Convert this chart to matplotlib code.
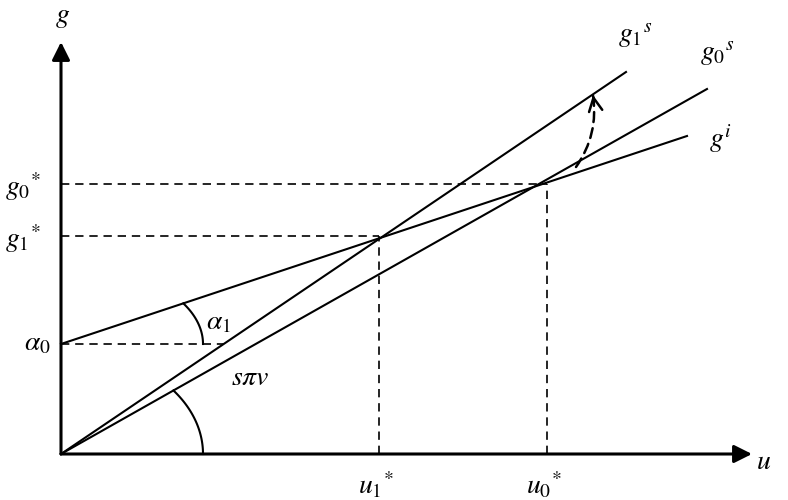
import numpy as np
import matplotlib.pyplot as plt
from matplotlib.patches import FancyArrowPatch

plt.rcParams['mathtext.fontset'] = 'stix'

# diagram coordinates (pixels measured from the origin of the u-g axes)
g1s_end = (565, 382)
g0s_end = (646, 365)
gi_start = (0, 110)
gi_end = (626, 318)
u_star = [318, 486]      # u1*, u0*
g_star = [218, 270]      # g1*, g0*
alpha0 = 110
shift_from = (515, 287)
shift_to = (532, 359)

line_labels = [r'$g_1{}^{s}$', r'$g_0{}^{s}$', r'$g^{i}$']
line_label_pos = [(574, 418), (656, 400), (659, 316)]
star_u_labels = [r'$u_1{}^{*}$', r'$u_0{}^{*}$']
star_g_labels = [r'$g_1{}^{*}$', r'$g_0{}^{*}$']

fig = plt.figure(figsize=(7.88, 5.0), dpi=100)
ax = fig.add_axes([0, 0, 1, 1])
ax.set_xlim(-61, 727)
ax.set_ylim(-46, 454)
ax.axis('off')

# axes with arrow heads
for tip in [(691, 0), (0, 412)]:
    ax.annotate('', xy=tip, xytext=(0, 0),
                arrowprops=dict(arrowstyle='-|>', lw=2.2, color='black',
                                mutation_scale=27, shrinkA=0, shrinkB=0))

# supply and investment lines
lw = 1.5
ax.plot([0, g1s_end[0]], [0, g1s_end[1]], color='black', lw=lw)
ax.plot([0, g0s_end[0]], [0, g0s_end[1]], color='black', lw=lw)
ax.plot([gi_start[0], gi_end[0]], [gi_start[1], gi_end[1]], color='black', lw=lw)

# dashed guides to the equilibria
dash = dict(color='black', lw=1.2, linestyle=(0, (5, 3.5)))
for u, g in zip(u_star, g_star):
    ax.plot([0, u], [g, g], **dash)
    ax.plot([u, u], [0, g], **dash)
slope1 = g1s_end[1] / g1s_end[0]
ax.plot([0, alpha0 / slope1], [alpha0, alpha0], **dash)

# angle arcs (slightly flattened, as drawn)
def angle_arc(cx, cy, slope, a, b):
    t_end = np.arctan(slope * a / b)
    t = np.linspace(0, t_end, 60)
    ax.plot(cx + a * np.cos(t), cy + b * np.sin(t), color='black', lw=lw)

slope_i = (gi_end[1] - gi_start[1]) / (gi_end[0] - gi_start[0])
slope0 = g0s_end[1] / g0s_end[0]
angle_arc(0, alpha0, slope_i, 142, 80)
angle_arc(0, 0, slope0, 142, 104)

# dashed curved shift arrow
curve = FancyArrowPatch(shift_from, shift_to, arrowstyle='-',
                        connectionstyle='arc3,rad=0.2', lw=1.8,
                        linestyle=(0, (4, 2.5)), color='black',
                        shrinkA=0, shrinkB=0)
ax.add_patch(curve)
ax.annotate('', xy=shift_to, xytext=(shift_to[0] + 1, shift_to[1] - 6),
            arrowprops=dict(arrowstyle='->', lw=1.8, color='black',
                            mutation_scale=24, shrinkA=0, shrinkB=0))

fs = 20
for lab, (x, y) in zip(line_labels, line_label_pos):
    ax.text(x, y, lab, fontsize=fs, ha='center', va='center')
for lab, u in zip(star_u_labels, u_star):
    ax.text(u - 3, -31, lab, fontsize=fs, ha='center', va='center')
for lab, g in zip(star_g_labels, g_star):
    ax.text(-38, g - 3, lab, fontsize=fs, ha='center', va='center')
ax.text(-24, alpha0 + 2, r'$\alpha_0$', fontsize=fs, ha='center', va='center')
ax.text(157, 133, r'$\alpha_1$', fontsize=fs, ha='center', va='center')
ax.text(189, 77, r'$s\pi v$', fontsize=fs, ha='center', va='center')
ax.text(2, 438, r'$g$', fontsize=fs, ha='center', va='center')
ax.text(703, -7, r'$u$', fontsize=fs, ha='center', va='center')

fig.savefig('out.png', dpi=100)
